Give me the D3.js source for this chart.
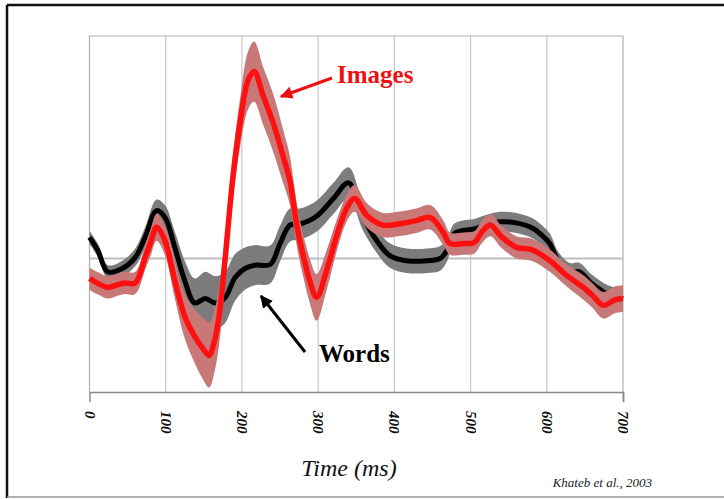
<!DOCTYPE html>
<html>
<head>
<meta charset="utf-8">
<script src="https://cdn.jsdelivr.net/npm/d3@7"></script>
<style>
  html, body { margin: 0; padding: 0; background: #fff; }
  svg { display: block; }
  svg text { font-family: "Liberation Serif", "Times New Roman", Times, "DejaVu Serif", serif; }
</style>
</head>
<body>
<svg id="chart" width="724" height="499"></svg>
<script>
// ERP waveforms (µV, arbitrary scale) for two stimulus conditions
const imagesTime = [0, 10, 24, 35, 46, 60, 73, 80, 88, 99, 112, 125, 138, 150, 157, 164, 170, 178, 188, 198, 208, 216, 228, 241, 254, 263, 268, 273, 280, 289, 298, 311, 325, 338, 348, 364, 385, 407, 429, 447, 464, 473, 490, 505, 515, 526, 540, 560, 580, 604, 626, 648, 660, 674, 690, 700];
const imagesMean = [-0.9, -1.1, -1.3, -1.2, -1.1, -1.1, 0.05, 0.7, 1.4, 0.8, -1.0, -2.6, -3.5, -4.1, -4.35, -3.7, -2.6, 0.0, 3.6, 6.2, 8.0, 8.4, 7.3, 6.1, 4.6, 3.5, 2.4, 1.3, 0.2, -1.0, -1.75, -0.54, 1.1, 2.3, 2.7, 1.93, 1.5, 1.56, 1.7, 1.85, 1.17, 0.67, 0.67, 0.73, 1.2, 1.5, 1.0, 0.5, 0.4, -0.1, -0.76, -1.3, -1.66, -2.1, -1.85, -1.8];
const imagesErr  = [0.5, 0.5, 0.5, 0.5, 0.5, 0.5, 0.55, 0.6, 0.6, 0.65, 0.8, 1.0, 1.2, 1.4, 1.45, 1.4, 1.3, 1.1, 1.0, 1.1, 1.3, 1.35, 1.3, 1.3, 1.2, 1.1, 1.0, 0.95, 0.95, 1.0, 1.05, 0.9, 0.7, 0.6, 0.6, 0.55, 0.55, 0.55, 0.55, 0.55, 0.55, 0.5, 0.5, 0.5, 0.5, 0.5, 0.5, 0.5, 0.5, 0.5, 0.5, 0.55, 0.55, 0.6, 0.6, 0.6];

const wordsTime = [0, 11, 24, 43, 60, 73, 88, 99, 112, 125, 138, 152, 165, 178, 191, 204, 217, 237, 250, 263, 276, 298, 320, 340, 359, 377, 394, 416, 443, 460, 469, 478, 490, 505, 520, 539, 560, 582, 595, 604, 615, 630, 643, 658, 670, 680, 690, 700];
const wordsMean = [0.95, 0.36, -0.6, -0.45, 0.05, 0.95, 2.15, 1.85, 0.5, -1.0, -2.0, -1.8, -2.0, -1.75, -0.85, -0.45, -0.3, -0.27, 0.67, 1.5, 1.55, 1.9, 2.7, 3.4, 1.85, 0.8, 0.13, -0.1, -0.1, 0.0, 0.36, 1.1, 1.26, 1.33, 1.5, 1.65, 1.6, 1.35, 1.0, 0.67, -0.1, -0.6, -0.6, -1.1, -1.4, -1.6, -1.7, -1.8];
const wordsErr  = [0.3, 0.3, 0.3, 0.35, 0.4, 0.45, 0.5, 0.55, 0.7, 0.9, 1.1, 1.2, 1.2, 1.15, 1.05, 0.95, 0.9, 0.85, 0.8, 0.75, 0.7, 0.7, 0.7, 0.7, 0.6, 0.55, 0.55, 0.55, 0.55, 0.55, 0.5, 0.45, 0.45, 0.45, 0.45, 0.45, 0.45, 0.45, 0.45, 0.45, 0.4, 0.4, 0.4, 0.4, 0.4, 0.4, 0.4, 0.4];

const timeTicks = [0, 100, 200, 300, 400, 500, 600, 700];

const serif = '"Liberation Serif", "Times New Roman", Times, "DejaVu Serif", serif';
const svg = d3.select("#chart");

// outer frame
svg.append("line").attr("x1", 7).attr("x2", 724).attr("y1", 5).attr("y2", 5)
  .attr("stroke", "#111").attr("stroke-width", 2.5);
svg.append("line").attr("x1", 7).attr("x2", 7).attr("y1", 5).attr("y2", 498)
  .attr("stroke", "#111").attr("stroke-width", 2.5);
svg.append("line").attr("x1", 7).attr("x2", 724).attr("y1", 497).attr("y2", 497)
  .attr("stroke", "#9a9a9a").attr("stroke-width", 1.5);

const plot = { left: 89.5, right: 623, top: 36, bottom: 392 };
const x = d3.scaleLinear().domain([0, 700]).range([plot.left, plot.right]);
const y = d3.scaleLinear().domain([-6, 10]).range([plot.bottom, plot.top]);

// vertical gridlines
svg.append("g").selectAll("line").data(timeTicks.slice(1, -1)).join("line")
  .attr("x1", d => x(d)).attr("x2", d => x(d))
  .attr("y1", plot.top).attr("y2", plot.bottom)
  .attr("stroke", "#c8c8c8").attr("stroke-width", 1.2);

// zero baseline
svg.append("line")
  .attr("x1", plot.left).attr("x2", plot.right)
  .attr("y1", y(0)).attr("y2", y(0))
  .attr("stroke", "#bdbdbd").attr("stroke-width", 2);

// plot box
svg.append("path")
  .attr("d", `M${plot.left},${plot.bottom}V${plot.top}H${plot.right}V${plot.bottom}`)
  .attr("fill", "none").attr("stroke", "#b0b0b0").attr("stroke-width", 1.2);

// x axis
const xAxis = svg.append("g")
  .attr("transform", `translate(0,${plot.bottom})`)
  .call(d3.axisBottom(x).tickValues([700]).tickSize(10).tickFormat(""));
xAxis.select(".domain").attr("stroke", "#888").attr("stroke-width", 1.5);
xAxis.selectAll(".tick line").attr("stroke", "#888").attr("stroke-width", 1.5);

svg.append("g").selectAll("text").data(timeTicks).join("text")
  .attr("transform", d => `translate(${x(d) - 5},${411}) rotate(90)`)
  .attr("text-anchor", "start")
  .style("font-family", serif)
  .style("font-weight", "bold").style("font-style", "italic")
  .style("font-size", "15px").attr("fill", "#111")
  .text(d => d);

const curve = d3.curveCatmullRom.alpha(0.5);

function band(times, mean, err) {
  const pts = times.map((t, i) => ({ t, lo: mean[i] - err[i], hi: mean[i] + err[i] }));
  return d3.area().x(d => x(d.t)).y0(d => y(d.lo)).y1(d => y(d.hi)).curve(curve)(pts);
}
function trace(times, mean) {
  return d3.line().x(d => x(d[0])).y(d => y(d[1])).curve(curve)(times.map((t, i) => [t, mean[i]]));
}

const layer = svg.append("g");
layer.append("path").attr("d", band(wordsTime, wordsMean, wordsErr)).attr("fill", "#7c7c7c");
layer.append("path").attr("d", trace(wordsTime, wordsMean))
  .attr("fill", "none").attr("stroke", "#000").attr("stroke-width", 5).attr("stroke-linejoin", "round");
layer.append("path").attr("d", band(imagesTime, imagesMean, imagesErr)).attr("fill", "#c97878");
layer.append("path").attr("d", trace(imagesTime, imagesMean))
  .attr("fill", "none").attr("stroke", "#ff1010").attr("stroke-width", 5.5).attr("stroke-linejoin", "round");

// annotations
const defs = svg.append("defs");
function marker(id, color) {
  defs.append("marker").attr("id", id)
    .attr("viewBox", "0 0 10 10").attr("refX", 9).attr("refY", 5)
    .attr("markerWidth", 4.2).attr("markerHeight", 4.2).attr("orient", "auto")
    .append("path").attr("d", "M0,0L10,5L0,10z").attr("fill", color);
}
marker("headRed", "#ee1111");
marker("headBlack", "#000");

svg.append("line").attr("x1", 332).attr("y1", 78).attr("x2", 281).attr("y2", 96.5)
  .attr("stroke", "#ee1111").attr("stroke-width", 3).attr("marker-end", "url(#headRed)");
svg.append("text").attr("x", 337).attr("y", 83)
  .style("font-family", serif)
  .style("font-weight", "bold").style("font-size", "25px").attr("fill", "#ee1111")
  .text("Images");

svg.append("line").attr("x1", 305).attr("y1", 352).attr("x2", 261).attr("y2", 296)
  .attr("stroke", "#000").attr("stroke-width", 3).attr("marker-end", "url(#headBlack)");
svg.append("text").attr("x", 319).attr("y", 362)
  .style("font-family", serif)
  .style("font-weight", "bold").style("font-size", "25px").attr("fill", "#000")
  .text("Words");

svg.append("text").attr("x", 349).attr("y", 476).attr("text-anchor", "middle")
  .style("font-family", serif)
  .style("font-style", "italic").style("font-size", "24px").attr("fill", "#111")
  .text("Time (ms)");

svg.append("text").attr("x", 652).attr("y", 487).attr("text-anchor", "end")
  .style("font-family", serif)
  .style("font-style", "italic").style("font-size", "13px").attr("fill", "#222")
  .text("Khateb et al., 2003");
</script>
</body>
</html>
